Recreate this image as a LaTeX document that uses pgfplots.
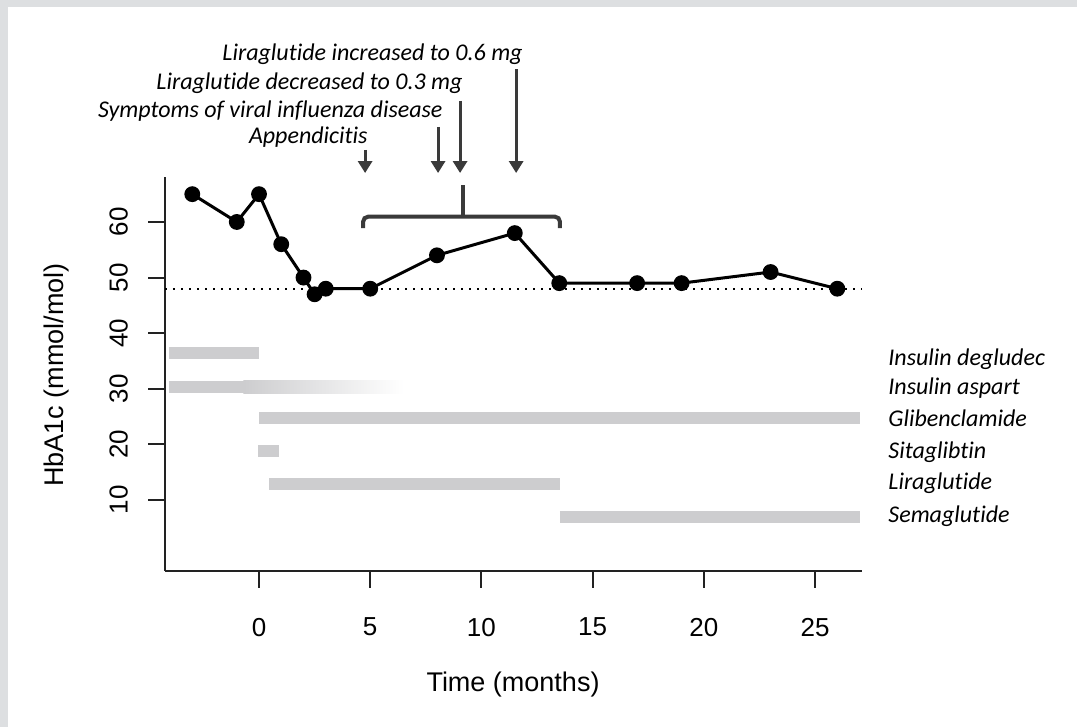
\documentclass[border=0pt]{standalone}
\usepackage{pgfplots}
\pgfplotsset{compat=1.18}
\usepackage{pgfplotstable}
\usepackage{fontspec}
\setmainfont{Liberation Sans}
\newfontfamily\calib[Ligatures={NoCommon}]{Carlito}
\usetikzlibrary{arrows.meta}
\definecolor{barcol}{RGB}{205,205,207}
\definecolor{bordergray}{RGB}{221,223,225}
\definecolor{annot}{RGB}{58,58,58}
\definecolor{axcol}{RGB}{34,34,34}

\pgfplotstableread{
x y
-3 65
-1 60
0 65
1 56
2 50
2.5 47
3 48
5 48
8 54
11.5 58
13.5 49
17 49
19 49
23 51
26 48
}\hba

\begin{document}
\begin{tikzpicture}
\fill[bordergray] (0,0) rectangle (538.5pt,363.5pt);
\fill[white] (4pt,0) rectangle (538.5pt,360pt);
\path[use as bounding box] (0,0) rectangle (538.5pt,363.5pt);
\begin{axis}[
  at={(82.5pt,78pt)}, anchor=south west,
  scale only axis, width=348.5pt, height=197pt,
  xmin=-4.227, xmax=27.11, ymin=-2.77, ymax=68.09,
  axis x line*=bottom, axis y line*=left,
  axis line style={axcol, line width=1pt, -},
  tick style={axcol, line width=1pt},
  major tick length=8.3pt,
  tick align=outside,
  xtick={0,5,...,25}, ytick={10,20,...,60},
  /pgf/number format/assume math mode=true,
  tick label style={font=\fontsize{13}{15}\selectfont, inner sep=0pt},
  xticklabel style={anchor=north},
  yticklabel style={rotate=90, anchor=south},
  xticklabel shift=15pt,
  yticklabel shift=10pt,
  xlabel={Time (months)},
  xlabel style={at={(axis description cs:0.4993,-0.307)}, anchor=base, font=\fontsize{13.5}{16}\selectfont},
  ylabel={HbA1c (mmol/mol)},
  ylabel style={at={(axis description cs:-0.1463,0.4975)}, anchor=base, font=\fontsize{13.5}{16}\selectfont},
  clip=false,
]
% treatment bars
\addplot[barcol, line width=6.3pt, no marks] coordinates {(-4.05,36.44) (0,36.44)};
\addplot[barcol, line width=6.3pt, no marks] coordinates {(-4.05,30.32) (-0.6,30.32)};
\addplot[draw=none, left color=barcol, middle color=barcol!28, right color=white, no marks]
  coordinates {(-0.7,29.18) (6.5,29.18) (6.5,31.46) (-0.7,31.46)} -- cycle;
\addplot[barcol, line width=6.3pt, no marks] coordinates {(0,24.75) (27.02,24.75)};
\addplot[barcol, line width=6.3pt, no marks] coordinates {(-0.03,18.81) (0.88,18.81)};
\addplot[barcol, line width=6.3pt, no marks] coordinates {(0.45,12.88) (13.53,12.88)};
\addplot[barcol, line width=6.3pt, no marks] coordinates {(13.53,6.94) (27.02,6.94)};
% reference line
\addplot[black, line width=1pt, dash pattern=on 1pt off 3pt, no marks] coordinates {(-4.227,48) (27.11,48)};
% HbA1c
\addplot[black, line width=1.5pt, mark=*, mark size=3.2pt] table[x=x, y=y] {\hba};

% labels of treatments
\begin{scope}[every node/.style={anchor=base west, font=\calib\itshape\fontsize{12}{14}\selectfont, inner sep=0pt}]
\node at (axis cs:28.28,34.1) {Insulin degludec};
\node at (axis cs:28.28,28.9) {Insulin aspart};
\node at (axis cs:28.28,23.13) {Glibenclamide};
\node at (axis cs:28.28,17.55) {Sitaglibtin};
\node at (axis cs:28.28,11.8) {Liraglutide};
\node at (axis cs:28.28,6.04) {Semaglutide};
\end{scope}

% events
\begin{scope}[every node/.style={anchor=base east, font=\calib\itshape\fontsize{12}{14}\selectfont, inner sep=0pt}]
\node at (axis cs:11.87,88.96) {Liraglutide increased to 0.6 mg};
\node at (axis cs:9.17,83.74) {Liraglutide decreased to 0.3 mg};
\node at (axis cs:8.27,78.7) {Symptoms of viral influenza disease};
\node at (axis cs:4.90,74.2) {Appendicitis};
\end{scope}
\begin{scope}[annot, line width=1.5pt, -{Triangle[width=7pt,length=6pt]}]
\draw (axis cs:4.77,72.95) -- (axis cs:4.77,68.8);
\draw (axis cs:8.05,77.1) -- (axis cs:8.05,68.8);
\draw (axis cs:9.04,81.8) -- (axis cs:9.04,68.8);
\draw (axis cs:11.56,87.5) -- (axis cs:11.56,68.8);
\end{scope}
\draw[annot, line width=2pt, rounded corners=2.5pt] (axis cs:4.68,58.9) -- (axis cs:4.68,60.95) -- (axis cs:13.53,60.95) -- (axis cs:13.53,58.9);
\draw[annot, line width=2pt] (axis cs:9.16,60.95) -- (axis cs:9.16,66.65);
\end{axis}
\end{tikzpicture}
\end{document}
